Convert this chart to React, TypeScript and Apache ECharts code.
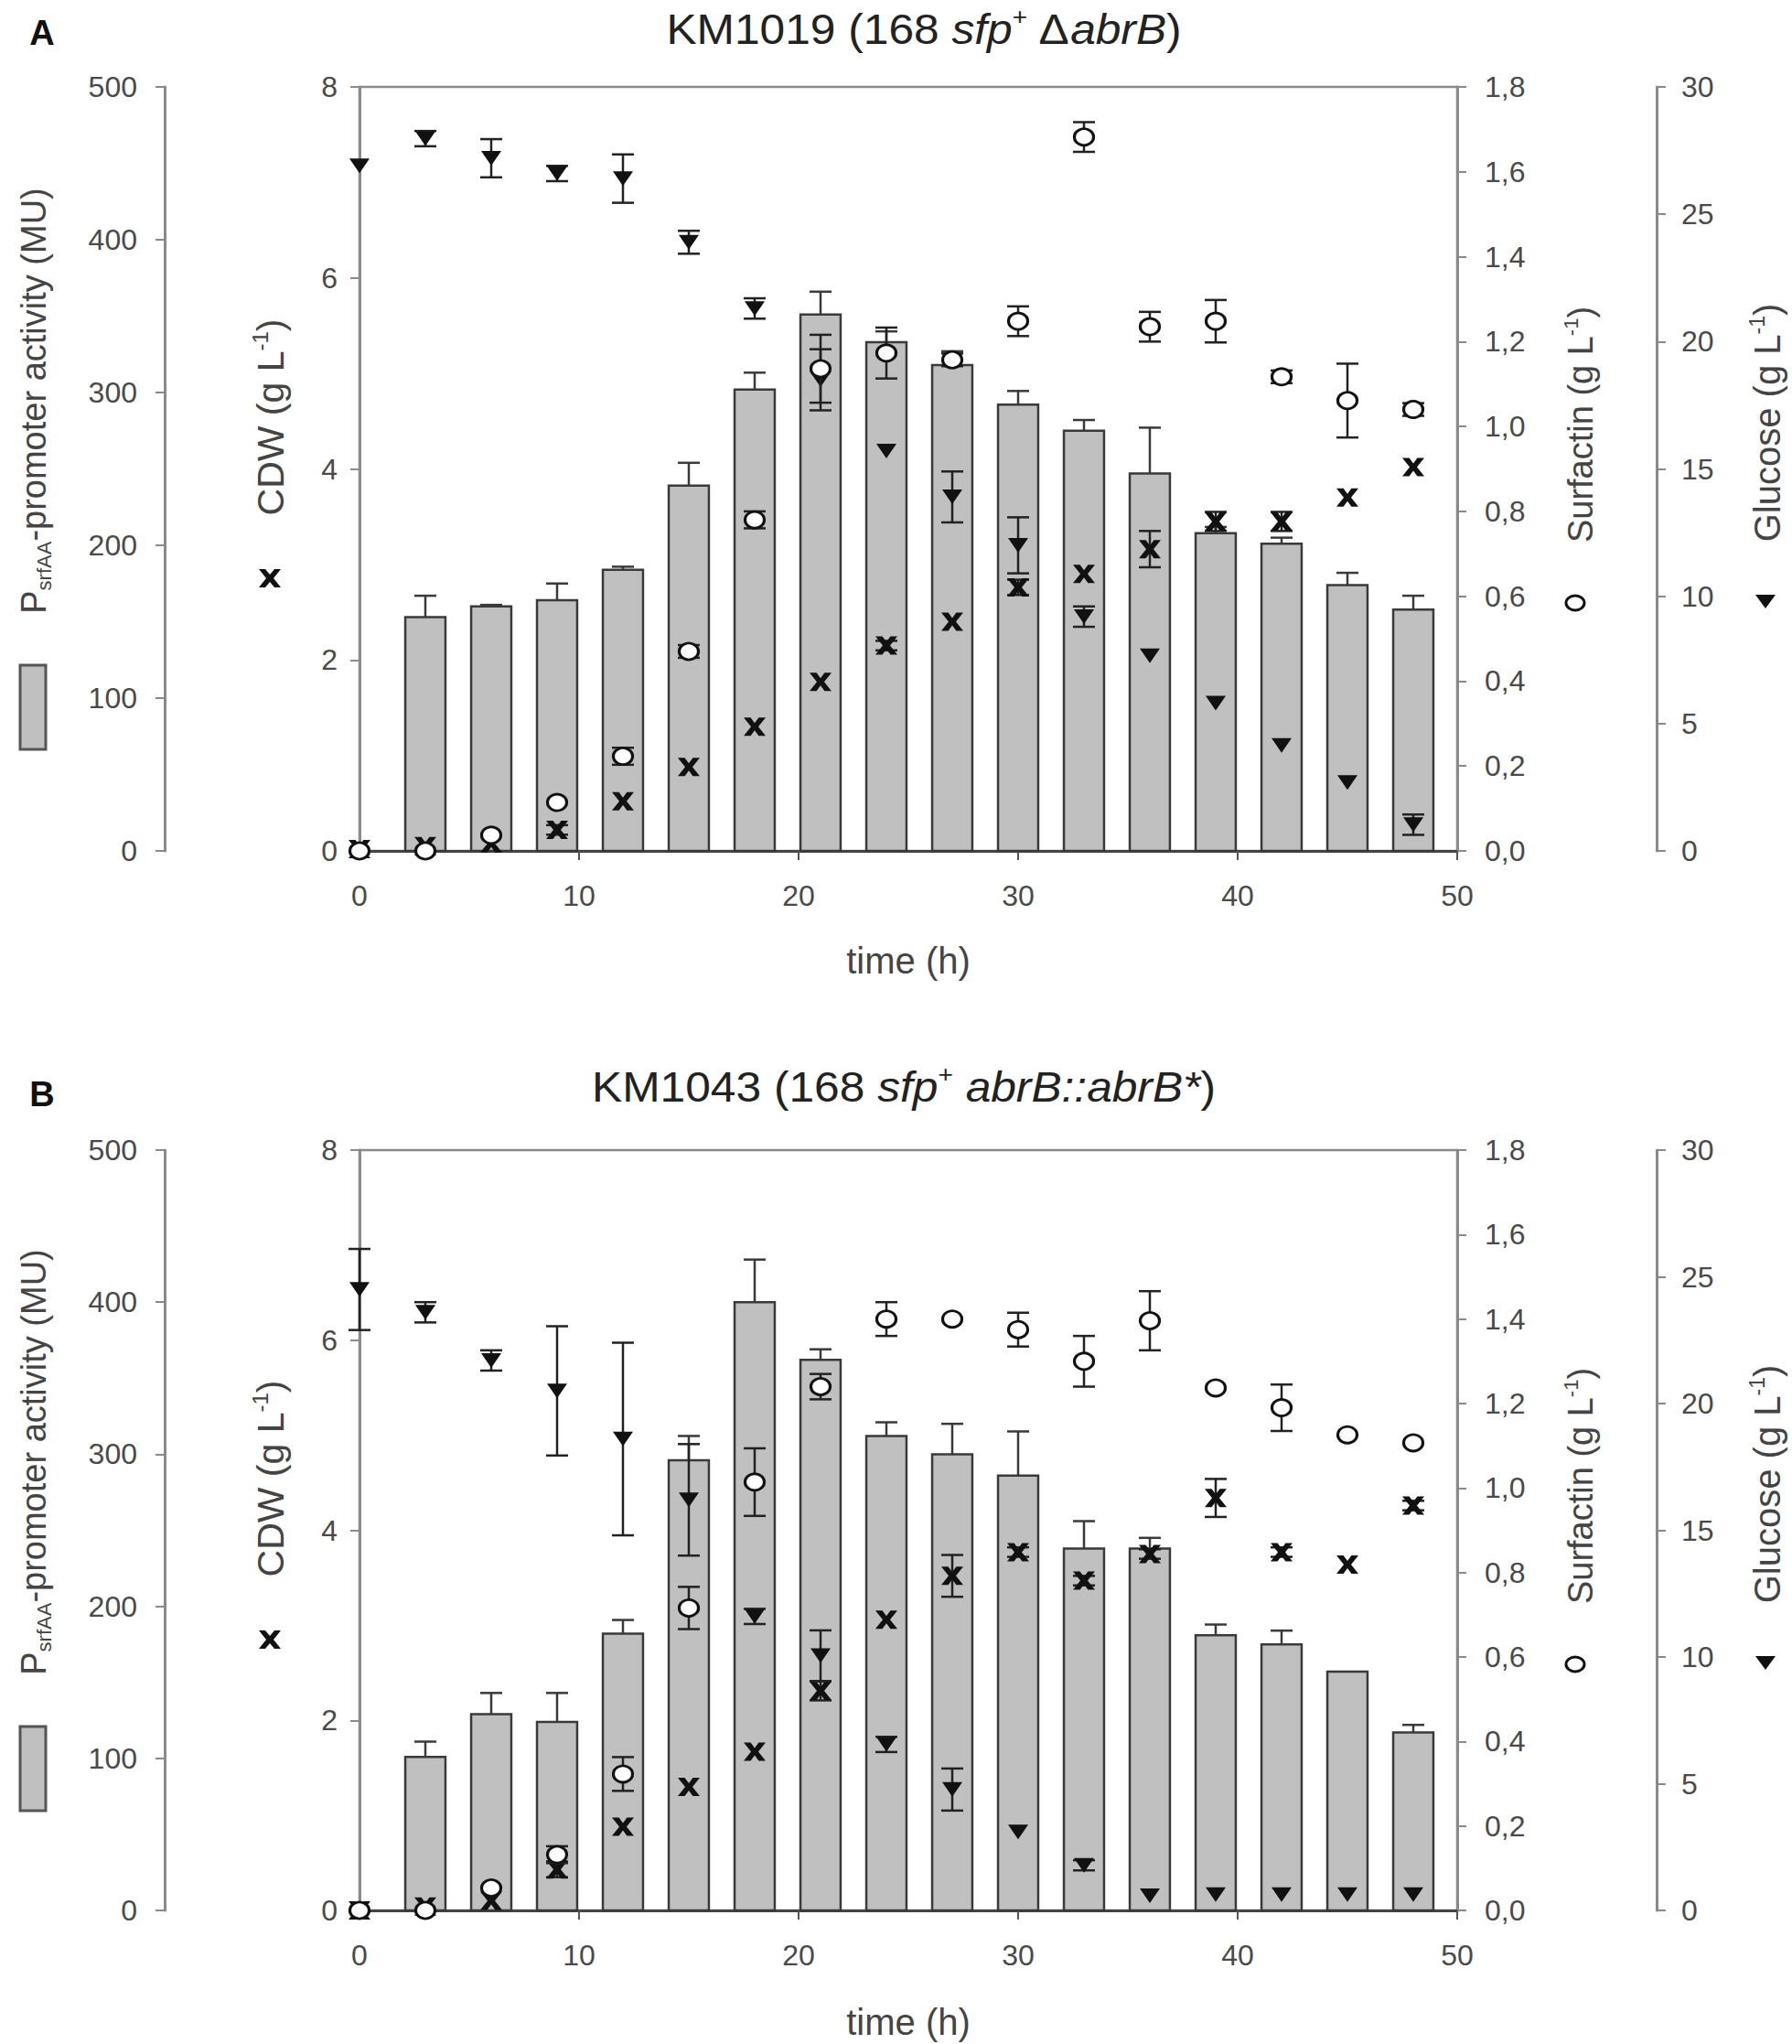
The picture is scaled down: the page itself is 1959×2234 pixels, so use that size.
import React, { useEffect, useRef } from 'react';
import * as echarts from 'echarts';

// ---------------- data ----------------
const times = [0, 3, 6, 9, 12, 15, 18, 21, 24, 27, 30, 33, 36, 39, 42, 45, 48];

// Panel A: KM1019
const muA = [null, 153, 160, 164, 184, 239, 302, 351, 333, 318, 292, 275, 247, 208, 201, 174, 158];
const muErrA = [0, 14, 1, 11, 2, 15, 11, 15, 7, 9, 9, 7, 30, 4, 4, 8, 9];
const cdwA = [0.02, 0.05, 0.08, 0.22, 0.52, 0.88, 1.3, 1.77, 2.15, 2.4, 2.76, 2.9, 3.16, 3.45, 3.45, 3.7, 4.02];
const cdwErrA = [0, 0, 0, 0.05, 0, 0, 0, 0, 0.05, 0, 0.08, 0, 0.19, 0.1, 0.1, 0, 0];
const surfA = [0, 0, 0.037, 0.114, 0.223, 0.47, 0.78, 1.136, 1.173, 1.157, 1.248, 1.682, 1.235, 1.248, 1.117, 1.061, 1.04];
const surfErrA = [0, 0, 0, 0, 0.02, 0.015, 0.02, 0.08, 0.06, 0.015, 0.035, 0.035, 0.035, 0.05, 0.015, 0.087, 0.015];
const glucA = [26.9, 27.97, 27.2, 26.6, 26.4, 23.9, 21.3, 18.5, 15.7, 13.9, 12.0, 9.2, 7.66, 5.8, 4.14, 2.69, 1.03];
const glucErrA = [0, 0.3, 0.75, 0.3, 0.95, 0.45, 0.4, 1.2, 0, 1.0, 1.1, 0.4, 0, 0, 0, 0, 0.4];

// Panel B: KM1043
const muB = [null, 101, 129, 124, 182, 296, 400, 362, 312, 300, 286, 238, 238, 181, 175, 157, 117];
const muErrB = [0, 10, 14, 19, 9, 16, 28, 7, 9, 20, 29, 18, 7, 7, 9, 0, 5];
const cdwB = [0.0, 0.04, 0.1, 0.43, 0.88, 1.3, 1.67, 2.31, 3.06, 3.52, 3.77, 3.47, 3.75, 4.34, 3.77, 3.64, 4.26];
const cdwErrB = [0, 0, 0, 0.08, 0, 0, 0, 0.1, 0, 0.22, 0.05, 0.05, 0.05, 0.2, 0.05, 0, 0.05];
const surfB = [0, 0, 0.053, 0.132, 0.323, 0.716, 1.014, 1.24, 1.4, 1.4, 1.375, 1.3, 1.396, 1.237, 1.19, 1.126, 1.107];
const surfErrB = [0, 0, 0, 0.02, 0.04, 0.05, 0.08, 0.03, 0.04, 0, 0.04, 0.06, 0.07, 0, 0.055, 0, 0];
const glucB = [24.5, 23.6, 21.7, 20.5, 18.6, 16.2, 11.6, 10.05, 6.55, 4.77, 3.1, 1.78, 0.58, 0.62, 0.62, 0.62, 0.62];
const glucErrB = [1.6, 0.4, 0.4, 2.55, 3.8, 2.2, 0.3, 1.0, 0.3, 0.83, 0, 0.2, 0, 0, 0, 0, 0];

// axis ranges / tick intervals
const xRange = [0, 50, 10];
const cdwRange = [0, 8, 2];
const muRange = [0, 500, 100];
const surfRange = [0, 1.8, 0.2];
const glucRange = [0, 30, 5];

const titlesRich = [
  '{n|KM1019 (168 }{i|sfp}{sup|+}{n| Δ}{i|abrB}{n|)}',
  '{n|KM1043 (168 }{i|sfp}{sup|+}{n| }{i|abrB::abrB*}{n|)}',
];
const panelLetters = ['A', 'B'];

// ---------------- style ----------------
const FONT = '"Liberation Sans", Arial, Helvetica, sans-serif';
const AXIS_GRAY = '#8a8a8a';
const LABEL_GRAY = '#4a4a4a';
const TITLE_GRAY = '#444';
const X_PATH = 'path://M0,0 L3.8,0 L6,3 L8.2,0 L12,0 L8,5 L12,10 L8.2,10 L6,7 L3.8,10 L0,10 L4,5 Z';
const TRI_PATH = 'path://M0,0 L12,0 L6,9 Z';
const TICK_FS = 32;

const panels = [
  { top: 95, height: 835, dy: 0, mu: muA, muErr: muErrA, cdw: cdwA, cdwErr: cdwErrA, surf: surfA, surfErr: surfErrA, gluc: glucA, glucErr: glucErrA, titleX: 1010, titleY: 32 },
  { top: 1257, height: 831, dy: 1160, mu: muB, muErr: muErrB, cdw: cdwB, cdwErr: cdwErrB, surf: surfB, surfErr: surfErrB, gluc: glucB, glucErr: glucErrB, titleX: 988, titleY: 1188 },
];

function errRender(capW: number) {
  return (params: any, api: any) => {
    const t = api.value(0);
    const lo = api.value(1);
    const hi = api.value(2);
    const a = api.coord([t, lo]);
    const b = api.coord([t, hi]);
    const hw = capW / 2;
    const style = { stroke: '#222', lineWidth: 2.5, fill: 'none' };
    return {
      type: 'group',
      children: [
        { type: 'line', shape: { x1: a[0], y1: a[1], x2: b[0], y2: b[1] }, style },
        { type: 'line', shape: { x1: a[0] - hw, y1: a[1], x2: a[0] + hw, y2: a[1] }, style },
        { type: 'line', shape: { x1: b[0] - hw, y1: b[1], x2: b[0] + hw, y2: b[1] }, style },
      ],
    };
  };
}

function barRender(params: any, api: any) {
  const t = api.value(0);
  const v = api.value(1);
  const e = api.value(2);
  const p0 = api.coord([t, 0]);
  const p1 = api.coord([t, v]);
  const pe = api.coord([t, e]);
  const w = api.size([1.83, 0])[0];
  const children: any[] = [
    {
      type: 'rect',
      shape: { x: p0[0] - w / 2, y: p1[1], width: w, height: p0[1] - p1[1] },
      style: { fill: '#c0c0c0', stroke: '#3a3a3a', lineWidth: 2.5 },
    },
  ];
  if (e > v) {
    const st = { stroke: '#3a3a3a', lineWidth: 2.5 };
    children.push({ type: 'line', shape: { x1: p1[0], y1: p1[1], x2: pe[0], y2: pe[1] }, style: st });
    children.push({ type: 'line', shape: { x1: pe[0] - 12, y1: pe[1], x2: pe[0] + 12, y2: pe[1] }, style: st });
  }
  return { type: 'group', children };
}

function yAxisBase(range: number[], position: string, offset: number, margin: number, fmt?: (v: number) => string) {
  return {
    type: 'value',
    position,
    offset,
    min: range[0],
    max: range[1],
    interval: range[2],
    axisLine: { show: true, onZero: false, lineStyle: { color: AXIS_GRAY, width: 3 } },
    axisTick: { show: true, inside: false, length: 10, lineStyle: { color: AXIS_GRAY, width: 2 } },
    axisLabel: { color: LABEL_GRAY, fontSize: TICK_FS, fontFamily: FONT, margin, formatter: fmt },
    splitLine: { show: false },
  };
}

function buildOption() {
  const grid: any[] = [];
  const xAxis: any[] = [];
  const yAxis: any[] = [];
  const series: any[] = [];
  const graphic: any[] = [];

  panels.forEach((p, pi) => {
    grid.push({ left: 393, top: p.top, width: 1200, height: p.height, show: true, borderColor: AXIS_GRAY, borderWidth: 2.5, backgroundColor: 'transparent' });
    xAxis.push({
      type: 'value',
      gridIndex: pi,
      min: xRange[0],
      max: xRange[1],
      interval: xRange[2],
      axisLine: { show: true, onZero: false, lineStyle: { color: '#444', width: 3 } },
      axisTick: { show: true, inside: false, length: 10, lineStyle: { color: '#555', width: 2 } },
      axisLabel: { color: LABEL_GRAY, fontSize: TICK_FS, fontFamily: FONT, margin: 33 },
      splitLine: { show: false },
    });
    const base = pi * 4;
    yAxis.push({ ...yAxisBase(cdwRange, 'left', 0, 24), gridIndex: pi });
    yAxis.push({ ...yAxisBase(muRange, 'left', 213, 30), gridIndex: pi });
    yAxis.push({ ...yAxisBase(surfRange, 'right', 0, 30, (v: number) => v.toFixed(1).replace('.', ',')), gridIndex: pi });
    yAxis.push({ ...yAxisBase(glucRange, 'right', 218, 27), gridIndex: pi });

    // bars
    const barData: any[] = [];
    times.forEach((t, i) => {
      const v = p.mu[i];
      if (v !== null && v !== undefined) barData.push([t, v, v + p.muErr[i]]);
    });
    series.push({
      type: 'custom',
      xAxisIndex: pi,
      yAxisIndex: base + 1,
      renderItem: barRender,
      data: barData,
      encode: { x: 0, y: [1, 2] },
      z: 1,
      silent: true,
    });

    const groups = [
      { vals: p.cdw, errs: p.cdwErr, yi: base + 0, sym: X_PATH, size: [24, 20], border: 0, fill: '#111' },
      { vals: p.gluc, errs: p.glucErr, yi: base + 3, sym: TRI_PATH, size: [22, 16], border: 0, fill: '#111' },
      { vals: p.surf, errs: p.surfErr, yi: base + 2, sym: 'circle', size: [21, 18], border: 3, fill: '#fff' },
    ];
    groups.forEach((g, gi) => {
      const errData: any[] = [];
      times.forEach((t, i) => {
        if (g.errs[i] > 0) errData.push([t, g.vals[i] - g.errs[i], g.vals[i] + g.errs[i]]);
      });
      series.push({
        type: 'custom',
        xAxisIndex: pi,
        yAxisIndex: g.yi,
        renderItem: errRender(24),
        data: errData,
        encode: { x: 0, y: [1, 2] },
        z: 2 + gi * 2,
        silent: true,
      });
      series.push({
        type: 'scatter',
        xAxisIndex: pi,
        yAxisIndex: g.yi,
        data: times.map((t, i) => [t, g.vals[i]]),
        symbol: g.sym,
        symbolSize: g.size,
        itemStyle: { color: g.fill, borderColor: '#111', borderWidth: g.border, opacity: 1 },
        z: 3 + gi * 2,
        silent: true,
      });
    });

    const dy = p.dy;
    // panel letter & title
    graphic.push({
      type: 'text', x: 46, y: 36 + dy,
      style: { text: panelLetters[pi], fontSize: 38, fontWeight: 'bold', fontFamily: FONT, fill: '#111', align: 'center', verticalAlign: 'middle', textAlign: 'center', textVerticalAlign: 'middle' },
    });
    graphic.push({
      type: 'text', x: p.titleX, y: p.titleY, scaleX: 1.08, scaleY: 1,
      style: {
        text: titlesRich[pi], fill: '#222', fontFamily: FONT, fontSize: 46,
        align: 'center', verticalAlign: 'middle', textAlign: 'center', textVerticalAlign: 'middle',
        rich: {
          n: { fontSize: 46, fontFamily: FONT, fill: '#222', lineHeight: 54 },
          i: { fontSize: 46, fontFamily: FONT, fontStyle: 'italic', fill: '#222', lineHeight: 54 },
          sup: { fontSize: 26, fontFamily: FONT, fill: '#222', verticalAlign: 'top', lineHeight: 54 },
        },
      },
    });
    // x axis title
    graphic.push({
      type: 'text', x: 993, y: 1050 + dy,
      style: { text: 'time (h)', fontSize: 40, fontFamily: FONT, fill: TITLE_GRAY, align: 'center', verticalAlign: 'middle', textAlign: 'center', textVerticalAlign: 'middle' },
    });
    // rotated axis titles
    const mkRich = (fs: number) => ({
      n: { fontSize: fs, fontFamily: FONT, fill: TITLE_GRAY, lineHeight: fs + 6 },
      sup: { fontSize: Math.round(fs * 0.58), fontFamily: FONT, fill: TITLE_GRAY, verticalAlign: 'top', lineHeight: fs + 6 },
      sub: { fontSize: Math.round(fs * 0.58), fontFamily: FONT, fill: TITLE_GRAY, verticalAlign: 'bottom', lineHeight: fs + 6 },
    });
    const rot = (x: number, y: number, text: string, fs: number) => ({
      type: 'text', x, y: y + dy, rotation: Math.PI / 2,
      style: { text, fontSize: fs, fontFamily: FONT, fill: TITLE_GRAY, align: 'center', verticalAlign: 'middle', textAlign: 'center', textVerticalAlign: 'middle', rich: mkRich(fs) },
    });
    graphic.push(rot(37, 438, '{n|P}{sub|srfAA}{n|-promoter activity (MU)}', 38));
    graphic.push(rot(296, 456, '{n|CDW (g L}{sup|-1}{n|)}', 41));
    graphic.push(rot(1728, 464, '{n|Surfactin (g L}{sup|-1}{n|)}', 38));
    graphic.push(rot(1932, 462, '{n|Glucose (g L}{sup|-1}{n|)}', 40));
    // legend symbols
    graphic.push({ type: 'rect', shape: { x: 22, y: 727 + dy, width: 28, height: 92 }, style: { fill: '#c0c0c0', stroke: '#555', lineWidth: 3 } });
    graphic.push({
      type: 'polygon',
      shape: { points: [[-12, -10], [-5, -10], [0, -4], [5, -10], [12, -10], [4, 0], [12, 10], [5, 10], [0, 4], [-5, 10], [-12, 10], [-4, 0]].map((q) => [q[0] + 295, q[1] + 632 + dy]) },
      style: { fill: '#111' },
    });
    graphic.push({ type: 'ellipse', shape: { cx: 1722, cy: 659 + dy, rx: 10, ry: 8 }, style: { fill: '#fff', stroke: '#111', lineWidth: 3 } });
    graphic.push({ type: 'polygon', shape: { points: [[1919, 650 + dy], [1941, 650 + dy], [1930, 665 + dy]] }, style: { fill: '#111' } });
  });

  return {
    animation: false,
    backgroundColor: '#fff',
    textStyle: { fontFamily: FONT },
    grid,
    xAxis,
    yAxis,
    series,
    graphic,
  };
}

export default function App() {
  const ref = useRef<HTMLDivElement>(null);
  useEffect(() => {
    const chart = echarts.init(ref.current!, null, { renderer: 'svg' });
    chart.setOption(buildOption() as any);
    return () => chart.dispose();
  }, []);
  return (
    <div
      ref={ref}
      style={{ position: 'absolute', left: 0, top: 0, width: 1959, height: 2234, background: '#fff' }}
    />
  );
}
